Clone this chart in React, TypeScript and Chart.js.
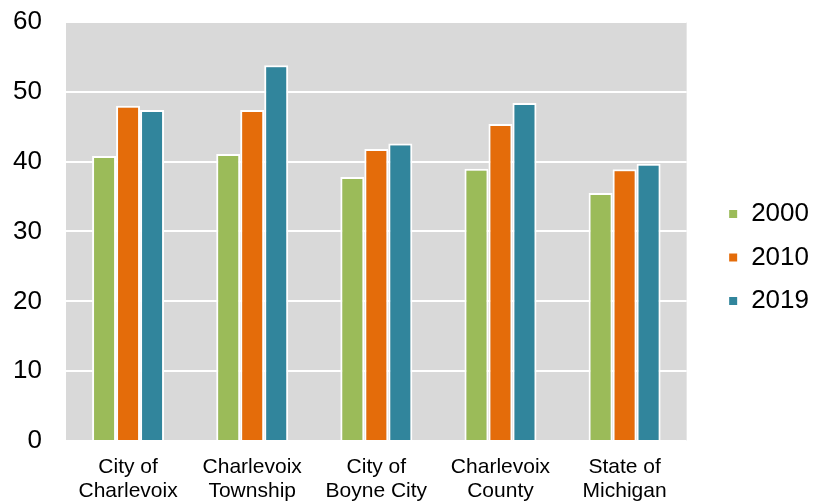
import { useEffect, useRef } from 'react';
import { Chart, registerables } from 'chart.js';

Chart.register(...registerables);

const categories = [
  ['City of', 'Charlevoix'],
  ['Charlevoix', 'Township'],
  ['City of', 'Boyne City'],
  ['Charlevoix', 'County'],
  ['State of', 'Michigan'],
];

const years = ['2000', '2010', '2019'];
const age2000 = [40.8, 41.1, 37.8, 39.0, 35.5];
const age2010 = [48.0, 47.4, 41.8, 45.4, 38.9];
const age2019 = [47.4, 53.8, 42.6, 48.4, 39.7];
const colors = ['#9bbb59', '#e46c0a', '#31859c'];

const FONT = "'Liberation Sans', Arial, sans-serif";

// grey plot area behind the bars
const plotBackground = {
  id: 'plotBackground',
  beforeDraw(chart: Chart) {
    const { ctx, chartArea } = chart;
    ctx.save();
    ctx.fillStyle = '#d9d9d9';
    ctx.fillRect(chartArea.left, chartArea.top, chartArea.right - chartArea.left, chartArea.bottom - chartArea.top);
    ctx.restore();
  },
};

// push the legend a bit further away from the plot (and up a touch)
const legendShift = {
  id: 'legendShift',
  afterLayout(chart: any) {
    if (!chart.legend) return;
    chart.legend.left += 24;
    chart.legend.right += 24;
    chart.legend.top -= 12;
    chart.legend.bottom -= 12;
  },
};

export default function App() {
  const chartRef = useRef<HTMLCanvasElement>(null);
  const chartInstance = useRef<Chart | null>(null);

  useEffect(() => {
    document.body.style.margin = '0';
    if (!chartRef.current) return;
    if (chartInstance.current) chartInstance.current.destroy();

    const ctx = chartRef.current.getContext('2d');
    if (!ctx) return;

    const series = [age2000, age2010, age2019];

    chartInstance.current = new Chart(ctx, {
      type: 'bar',
      data: {
        labels: categories,
        datasets: series.map((values, i) => ({
          label: years[i],
          data: values,
          backgroundColor: colors[i],
          borderColor: '#ffffff',
          borderWidth: 2,
          barPercentage: 1,
          categoryPercentage: 0.58,
        })),
      },
      options: {
        animation: false,
        responsive: false,
        layout: {
          padding: { top: 22, left: 8, right: 29, bottom: -16 },
        },
        plugins: {
          legend: {
            position: 'right',
            labels: {
              boxWidth: 10,
              boxHeight: 10,
              padding: 17.5,
              color: '#000000',
              font: { family: FONT, size: 26 },
            },
          },
          tooltip: { enabled: false },
        },
        scales: {
          x: {
            grid: { display: false, drawTicks: false },
            border: { display: false },
            ticks: {
              color: '#000000',
              padding: 14,
              maxRotation: 0,
              font: { family: FONT, size: 21, lineHeight: 1.143 },
            },
          },
          y: {
            min: 0,
            max: 60,
            grid: {
              color: '#ffffff',
              lineWidth: 2,
              drawTicks: true,
              tickLength: 24,
              tickColor: 'rgba(0,0,0,0)',
            },
            border: { display: false },
            ticks: {
              stepSize: 10,
              color: '#000000',
              padding: 0,
              font: { family: FONT, size: 26 },
            },
            afterFit: (scale: any) => {
              scale.width = 58;
            },
          },
        },
      },
      plugins: [plotBackground, legendShift],
    });

    return () => {
      if (chartInstance.current) {
        chartInstance.current.destroy();
        chartInstance.current = null;
      }
    };
  }, []);

  return <canvas ref={chartRef} width={824} height={501} style={{ display: 'block' }} />;
}
